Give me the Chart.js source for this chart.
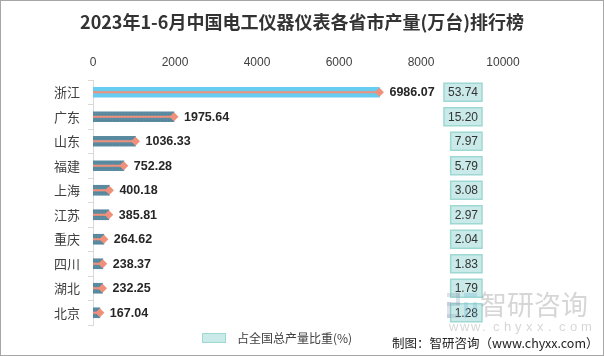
<!DOCTYPE html>
<html><head><meta charset="utf-8">
<script src="https://cdn.jsdelivr.net/npm/chart.js@4/dist/chart.umd.min.js"></script>
<style>html,body{margin:0;padding:0;background:#fff}canvas{display:block}</style>
</head><body>
<canvas id="c" width="604" height="356"></canvas>
<script>
const titleText = '2023年1-6月中国电工仪器仪表各省市产量(万台)排行榜';
const categories = ['浙江','广东','山东','福建','上海','江苏','重庆','四川','湖北','北京'];
const output = [6986.07,1975.64,1036.33,752.28,400.18,385.81,264.62,238.37,232.25,167.04];
const share = [53.74,15.20,7.97,5.79,3.08,2.97,2.04,1.83,1.79,1.28];
const xTicks = [0,2000,4000,6000,8000,10000];
const legendLabel = '占全国总产量比重(%)';
const sourceText = '制图：智研咨询（www.chyxx.com）';

const CJK = '"Noto Sans CJK SC","Noto Sans",sans-serif';
const NUM = '"Liberation Sans","DejaVu Sans",sans-serif';

// dotted pattern for the dark bars
const pc = document.createElement('canvas'); pc.width = 3; pc.height = 3;
const px = pc.getContext('2d');
px.fillStyle = '#5B8BA1'; px.fillRect(0,0,3,3);
px.fillStyle = '#4F7F95'; px.fillRect(0,0,1,1);
const ctx0 = document.getElementById('c').getContext('2d');
const darkPattern = ctx0.createPattern(pc,'repeat');

const barColors = output.map((v,i)=> i===0 ? '#66CCF0' : darkPattern);

const decor = {
  id:'decor',
  afterDatasetsDraw(chart){
    const {ctx, chartArea, scales} = chart;
    const y = scales.y;
    const bars = chart.getDatasetMeta(2).data;
    ctx.save();
    // value labels
    ctx.font = 'bold 12.5px ' + NUM;
    ctx.fillStyle = '#262626';
    ctx.textAlign = 'left'; ctx.textBaseline = 'middle';
    bars.forEach((b,i)=>{ ctx.fillText(output[i].toFixed(2), b.x + 10, b.y + 0.5); });
    // share boxes
    ctx.font = '12px ' + NUM;
    const right = chartArea.right - 21;
    share.forEach((s,i)=>{
      const t = s.toFixed(2);
      const w = ctx.measureText(t).width + 8;
      const cy = y.getPixelForValue(i);
      ctx.fillStyle = '#C9EAE8';
      ctx.fillRect(right - w, cy - 9, w, 18);
      ctx.strokeStyle = '#9ED8D2'; ctx.lineWidth = 1.5;
      ctx.strokeRect(right - w, cy - 9, w, 18);
      ctx.fillStyle = '#333';
      ctx.textAlign = 'center';
      ctx.fillText(t, right - w/2, cy + 0.5);
    });
    ctx.restore();
  },
  afterDraw(chart){
    const {ctx, width, height} = chart;
    ctx.save();
    // title
    ctx.font = 'bold 18px ' + CJK;
    ctx.fillStyle = '#333';
    ctx.textAlign = 'center'; ctx.textBaseline = 'middle';
    ctx.fillText(titleText, width/2, 22);
    // legend
    ctx.fillStyle = '#C9EAE8'; ctx.fillRect(202, 333, 24, 10);
    ctx.strokeStyle = '#9ED8D2'; ctx.lineWidth = 1; ctx.strokeRect(202.5, 333.5, 23, 9);
    ctx.font = '12px ' + CJK; ctx.fillStyle = '#404040';
    ctx.textAlign = 'left';
    ctx.fillText(legendLabel, 237, 338);
    // source
    ctx.fillStyle = '#222';
    ctx.font = '12.5px ' + CJK;
    ctx.fillText(sourceText, 392, 343);
    // watermark
    ctx.globalAlpha = 0.3;
    ctx.fillStyle = '#8ea2b8';
    ctx.fillRect(447, 293, 13, 4); ctx.fillRect(456, 293, 4, 12); ctx.fillRect(447, 302, 13, 4); ctx.fillRect(447, 302, 4, 16); ctx.fillRect(447, 314, 13, 4);
    ctx.fillStyle = '#6fb8d8';
    ctx.fillRect(464, 293, 13, 4); ctx.fillRect(464, 302, 4, 16); ctx.fillRect(473, 302, 4, 16);
    ctx.fillStyle = '#777';
    ctx.font = '27px ' + CJK; ctx.textBaseline = 'middle';
    ctx.fillText('智研咨询', 480, 305);
    ctx.font = '13px ' + NUM;
    const wm = 'www.chyxx.com';
    for (let k=0;k<wm.length;k++){ ctx.fillText(wm[k], 449 + k*11, 327); }
    ctx.globalAlpha = 1;
    // border
    ctx.strokeStyle = '#a6a6a6'; ctx.lineWidth = 1;
    ctx.strokeRect(0.5, 0.5, width - 1, height - 1);
    ctx.restore();
  }
};

new Chart(ctx0, {
  type:'bar',
  data:{
    labels: categories,
    datasets:[
      {type:'line', indexAxis:'y', data: output, showLine:false, pointStyle:'rectRot', pointRadius:4.5, pointHoverRadius:4.5,
       pointBackgroundColor:'#F0907A', pointBorderWidth:0, order:1},
      {indexAxis:'y', data: output, backgroundColor:'#F0907A', barThickness:1.5, grouped:false, order:2},
      {indexAxis:'y', data: output, backgroundColor: barColors, barThickness:10, grouped:false, order:3}
    ]
  },
  options:{
    indexAxis:'y',
    responsive:false, animation:false,
    layout:{padding:{left:0, right:101, top:0, bottom:31}},
    plugins:{legend:{display:false}, tooltip:{enabled:false}, title:{display:false}},
    scales:{
      x:{position:'top', min:0, max:10000,
         afterBuildTicks(s){ s.ticks = xTicks.map(v=>({value:v})); },
         afterFit(s){ s.height = 80; },
         grid:{display:false, drawTicks:false}, border:{display:false},
         ticks:{padding:10, color:'#404040', font:{size:12, family:NUM}, callback:(v)=>String(v)}},
      y:{afterFit(s){ s.width = 93; },
         grid:{drawOnChartArea:false, offset:true, tickLength:5, color:'#d9d9d9'},
         border:{display:true, color:'#d9d9d9'},
         ticks:{padding:8, color:'#404040', font:{size:13, family:CJK}}}
    }
  },
  plugins:[decor]
});
</script>
</body></html>
